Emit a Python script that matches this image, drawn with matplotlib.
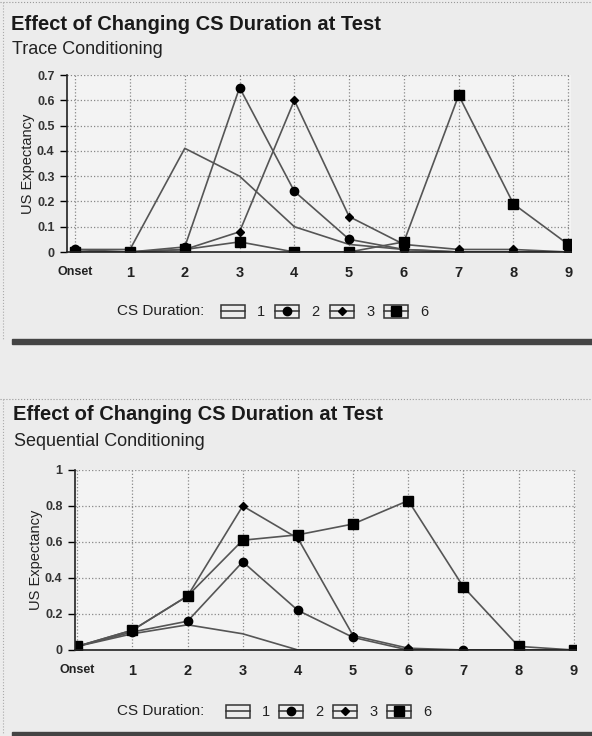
import matplotlib
matplotlib.use("Agg")
import matplotlib.pyplot as plt
from matplotlib.patches import Rectangle
from matplotlib.lines import Line2D

plt.rcParams["font.family"] = ["Liberation Sans", "DejaVu Sans"]

# data
x_labels = ["Onset", "1", "2", "3", "4", "5", "6", "7", "8", "9"]
durations = ["1", "2", "3", "6"]

trace_d1 = [0.01, 0.01, 0.41, 0.30, 0.10, 0.03, 0.01, 0.00, 0.00, 0.00]
trace_d2 = [0.01, 0.00, 0.02, 0.65, 0.24, 0.05, 0.01, 0.00, 0.00, 0.00]
trace_d3 = [0.00, 0.00, 0.01, 0.08, 0.60, 0.14, 0.03, 0.01, 0.01, 0.00]
trace_d6 = [0.00, 0.00, 0.01, 0.04, 0.00, 0.00, 0.04, 0.62, 0.19, 0.03]

seq_d1 = [0.02, 0.09, 0.14, 0.09, 0.00, 0.00, 0.00, 0.00, 0.00, 0.00]
seq_d2 = [0.02, 0.10, 0.16, 0.49, 0.22, 0.07, 0.00, 0.00, 0.00, 0.00]
seq_d3 = [0.02, 0.11, 0.30, 0.80, 0.62, 0.08, 0.01, 0.00, 0.00, 0.00]
seq_d6 = [0.02, 0.11, 0.30, 0.61, 0.64, 0.70, 0.83, 0.35, 0.02, 0.00]

trace_yticks = [0, 0.1, 0.2, 0.3, 0.4, 0.5, 0.6, 0.7]
trace_ylabels = ["0", "0.1", "0.2", "0.3", "0.4", "0.5", "0.6", "0.7"]
seq_yticks = [0, 0.2, 0.4, 0.6, 0.8, 1.0]
seq_ylabels = ["0", "0.2", "0.4", "0.6", "0.8", "1"]

styles = {
    "1": dict(marker=None),
    "2": dict(marker="o", markersize=6),
    "3": dict(marker="D", markersize=4),
    "6": dict(marker="s", markersize=6.5),
}
LINE = "#555555"
BG = "#ececec"
AXBG = "#f3f3f3"

fig = plt.figure(figsize=(5.92, 7.36), dpi=100, facecolor=BG)
W, H = 592, 736


def fx(px):
    return px / W


def fy(py):
    return 1 - py / H


def panel(ax, series, yticks, ylabels, xlim):
    xs = range(len(x_labels))
    for d, ys in zip(durations, series):
        ax.plot(xs, ys, color=LINE, lw=1.2, markerfacecolor="black",
                markeredgecolor="black", **styles[d])
    ax.set_facecolor(AXBG)
    ax.set_xlim(*xlim)
    ax.set_ylim(0, yticks[-1])
    ax.set_xticks(list(xs))
    ax.set_xticklabels(x_labels, fontsize=10.5, fontweight="bold", color="#222222")
    ax.set_yticks(yticks)
    ax.set_yticklabels(ylabels, fontsize=9, fontweight="bold", color="#333333")
    ax.tick_params(axis="x", length=0, pad=10)
    ax.tick_params(axis="y", length=5, width=1, pad=4)
    ax.get_xticklabels()[0].set_fontsize(9)
    ax.grid(True, ls=":", color="#888888", lw=0.9)
    for s in ["top", "right"]:
        ax.spines[s].set_visible(False)
    for s in ["left", "bottom"]:
        ax.spines[s].set_color("#222222")
        ax.spines[s].set_linewidth(1.2)
    ax.set_ylabel("US Expectancy", fontsize=10.5, color="#222222", labelpad=1)


def legend(y_px, box_x):
    fig.text(fx(117), fy(y_px), "CS Duration:", fontsize=11, va="center",
             ha="left", color="#222222")
    for d, bx in zip(durations, box_x):
        bw, bh = 24, 13
        fig.add_artist(Rectangle((fx(bx), fy(y_px + bh / 2)), bw / W, bh / H,
                                 transform=fig.transFigure, fill=False,
                                 ec="#333333", lw=1.1))
        fig.add_artist(Line2D([fx(bx), fx(bx + bw)], [fy(y_px), fy(y_px)],
                              transform=fig.transFigure, color="#333333", lw=1.1))
        st = styles[d]
        if st["marker"]:
            fig.add_artist(Line2D([fx(bx + bw / 2)], [fy(y_px)],
                                  transform=fig.transFigure, ls="none",
                                  color="black", **st))
        fig.text(fx(bx + bw + 12), fy(y_px + 1), d, fontsize=10.5, va="center",
                 ha="left", color="#222222")


# top panel: trace conditioning
ax1 = fig.add_axes([fx(67), fy(252), fx(571) - fx(67), fy(75) - fy(252)])
panel(ax1, [trace_d1, trace_d2, trace_d3, trace_d6],
      trace_yticks, trace_ylabels, (-0.15, 9.05))
fig.text(fx(11), fy(24), "Effect of Changing CS Duration at Test",
         fontsize=14.5, fontweight="bold", va="center", color="#1a1a1a")
fig.text(fx(12), fy(50), "Trace Conditioning", fontsize=13, va="center",
         color="#222222")
legend(311, [221, 275, 330, 384])

# bottom panel: sequential conditioning
ax2 = fig.add_axes([fx(75), fy(650), fx(576) - fx(75), fy(470) - fy(650)])
panel(ax2, [seq_d1, seq_d2, seq_d3, seq_d6],
      seq_yticks, seq_ylabels, (-0.04, 9.04))
fig.text(fx(13), fy(414), "Effect of Changing CS Duration at Test",
         fontsize=14.5, fontweight="bold", va="center", color="#1a1a1a")
fig.text(fx(14), fy(442), "Sequential Conditioning", fontsize=13, va="center",
         color="#222222")
legend(711, [226, 279, 333, 387])

# dark rules and dotted frames of the scanned page
fig.add_artist(Rectangle((fx(12), fy(344)), 1 - fx(12), 5 / H,
                         transform=fig.transFigure, color="#444444"))
fig.add_artist(Rectangle((fx(12), 0), 1 - fx(12), 4 / H,
                         transform=fig.transFigure, color="#444444"))
for yy in [2, 399]:
    fig.add_artist(Line2D([0, 1], [fy(yy), fy(yy)], transform=fig.transFigure,
                          ls=":", color="#999999", lw=0.8))
fig.add_artist(Line2D([fx(3), fx(3)], [fy(2), fy(340)], transform=fig.transFigure,
                      ls=":", color="#aaaaaa", lw=0.8))
fig.add_artist(Line2D([fx(3), fx(3)], [fy(399), fy(733)], transform=fig.transFigure,
                      ls=":", color="#aaaaaa", lw=0.8))

fig.savefig("out.png", dpi=100, facecolor=BG)
